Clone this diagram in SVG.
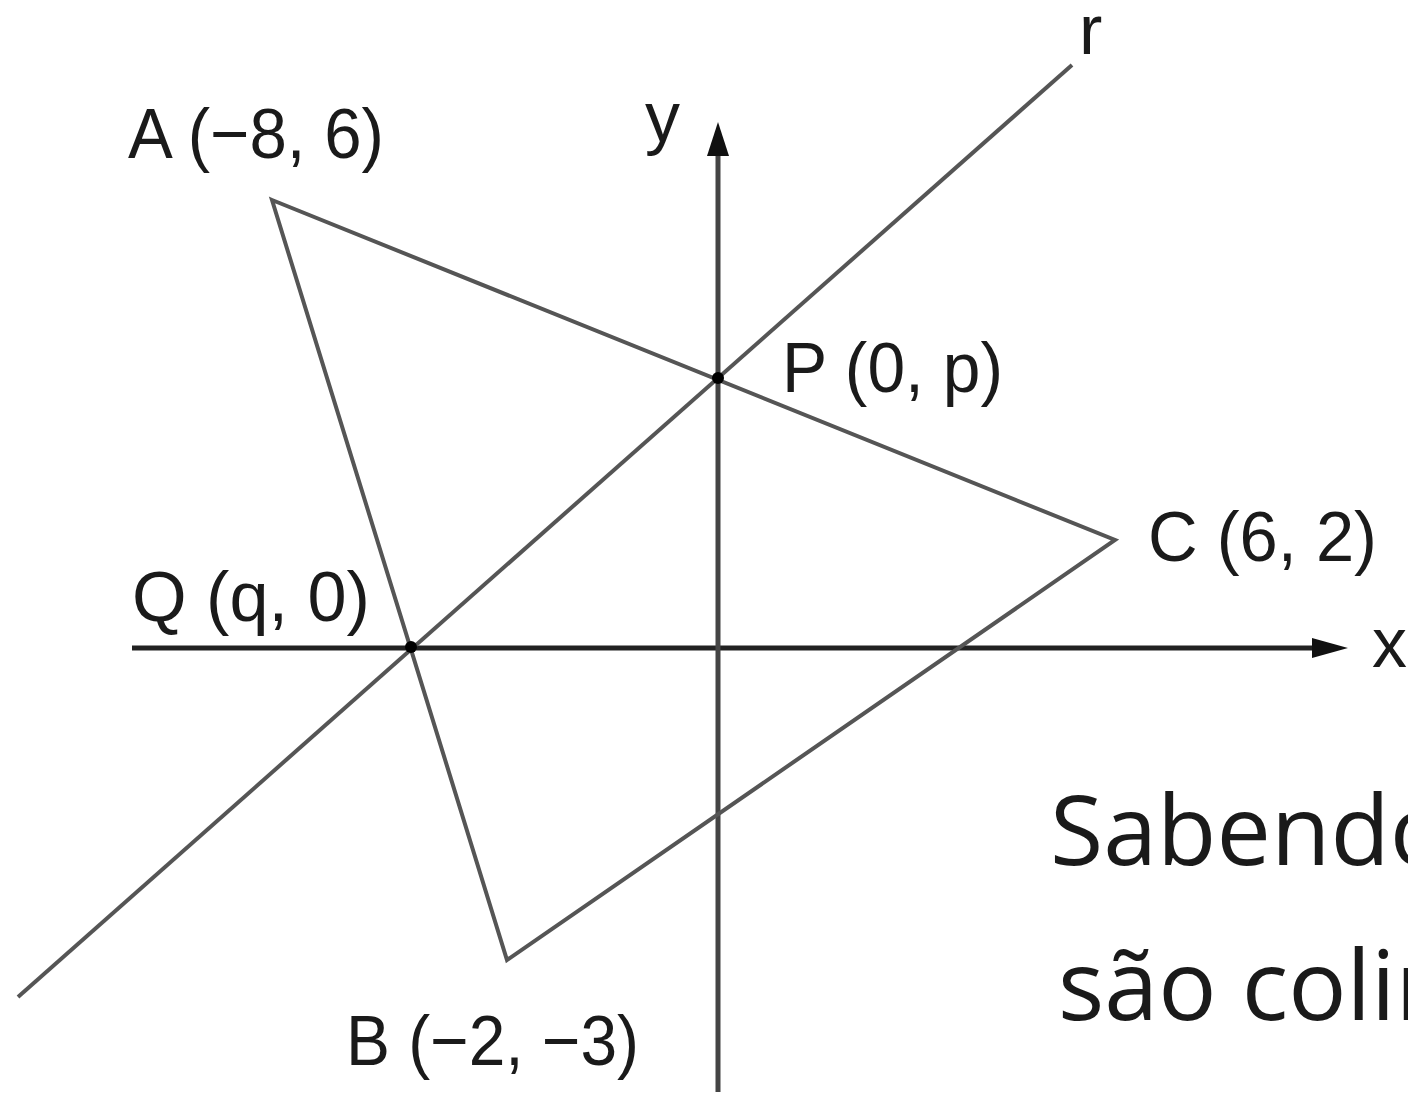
<svg xmlns="http://www.w3.org/2000/svg" width="1408" height="1094" viewBox="0 0 1408 1094">
  <style>
    .lbl { font-family: "Liberation Sans", Arial, sans-serif; font-size: 70px; fill: #1a1a1a; }
    .txt { font-family: "Open Sans", "Noto Sans", sans-serif; font-size: 97px; fill: #1a1a1a; }
    .tri { stroke: #555; stroke-width: 4; fill: none; stroke-linejoin: miter; }
    .line { stroke: #555; stroke-width: 4; fill: none; }
    .axis-x { stroke: #222; stroke-width: 5; fill: none; }
    .axis-y { stroke: #444; stroke-width: 5; fill: none; }
    .dot { fill: #000; }
  </style>
  <rect x="0" y="0" width="1408" height="1094" fill="#fff"/>

  <g id="connectors">
    <line id="axis-x" class="axis-x" x1="132" y1="648" x2="1316" y2="648"/>
    <polygon points="1348,648 1312,638 1312,658" fill="#111"/>
    <line id="axis-y" class="axis-y" x1="718" y1="1092" x2="718" y2="152"/>
    <polygon points="718,122 707,156 729,156" fill="#111"/>
    <line id="line-r" class="line" x1="18" y1="997" x2="1072" y2="65"/>
    <polygon id="triangle" class="tri" points="272,200 1115,540 507,960"/>
  </g>

  <g id="node-A">
    <text class="lbl" x="128" y="158" textLength="256" lengthAdjust="spacingAndGlyphs">A (−8, 6)</text>
  </g>
  <g id="node-B">
    <text class="lbl" x="346" y="1065" textLength="293" lengthAdjust="spacingAndGlyphs">B (−2, −3)</text>
  </g>
  <g id="node-C">
    <text class="lbl" x="1148" y="561" textLength="229" lengthAdjust="spacingAndGlyphs">C (6, 2)</text>
  </g>
  <g id="node-P">
    <circle class="dot" cx="718" cy="378" r="6"/>
    <text class="lbl" x="782" y="392" textLength="221" lengthAdjust="spacingAndGlyphs">P (0, p)</text>
  </g>
  <g id="node-Q">
    <circle class="dot" cx="411" cy="647" r="6"/>
    <text class="lbl" x="132" y="621" textLength="238" lengthAdjust="spacingAndGlyphs">Q (q, 0)</text>
  </g>
  <g id="label-y">
    <text class="lbl" x="645" y="141">y</text>
  </g>
  <g id="label-x">
    <text class="lbl" x="1372" y="667">x</text>
  </g>
  <g id="label-r">
    <text class="lbl" x="1079" y="54">r</text>
  </g>

  <g id="statement">
    <text class="txt" x="1050" y="865">Sabendo</text>
    <text class="txt" x="1058" y="1020">são colin</text>
  </g>
</svg>
